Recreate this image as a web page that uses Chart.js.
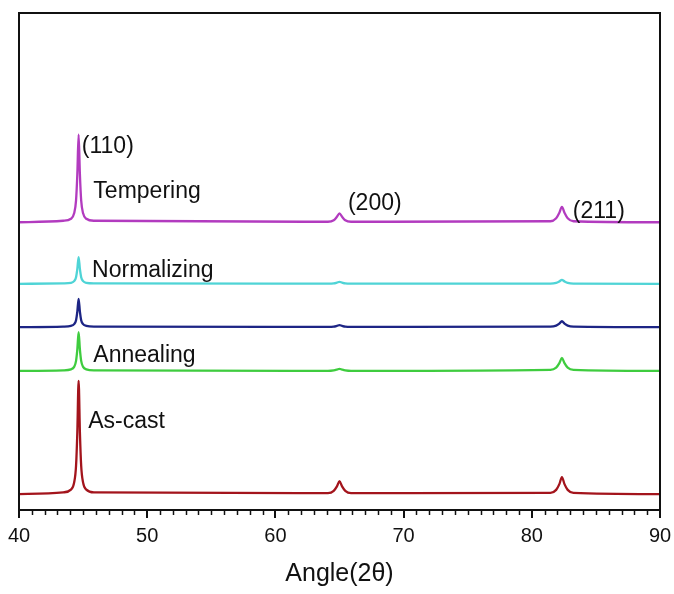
<!DOCTYPE html>
<html>
<head>
<meta charset="utf-8">
<script src="https://cdn.jsdelivr.net/npm/chart.js@4"></script>
<style>
  html, body { margin: 0; padding: 0; background: #fff; }
  #wrap { width: 674px; height: 594px; }
</style>
</head>
<body>
<div id="wrap"><canvas id="grafico-xrd"></canvas></div>
<script>
// Ángulos 2θ compartidos por todas las curvas
const angulos = [40, 43.45, 44.05, 44.3, 44.45, 44.55, 44.65, 44.75, 44.85, 45.0, 45.25, 45.85,
    64.1, 64.55, 64.8, 65.0, 65.2, 65.45, 65.9,
    81.45, 81.9, 82.15, 82.35, 82.55, 82.8, 83.25, 90];

// Intensidades (desplazadas)
const asCast      = [3.2, 3.55, 4.1, 5.5, 8.9, 15.7, 26.0, 15.7, 8.9, 5.5, 4.1, 3.55,
    3.4, 3.85, 4.75, 5.8, 4.75, 3.85, 3.4,
    3.45, 4.05, 5.2, 6.6, 5.2, 4.05, 3.45, 3.2];
const annealing   = [28.0, 28.1, 28.3, 28.8, 30.0, 32.3, 35.8, 32.3, 30.0, 28.8, 28.3, 28.1,
    28.0, 28.1, 28.25, 28.4, 28.25, 28.1, 28.0,
    28.2, 28.65, 29.55, 30.6, 29.55, 28.65, 28.2, 28.0];
const sinNombre   = [36.8, 36.9, 37.05, 37.4, 38.2, 39.9, 42.5, 39.9, 38.2, 37.4, 37.05, 36.9,
    36.85, 36.9, 37.05, 37.2, 37.05, 36.9, 36.85,
    36.9, 37.1, 37.5, 38.0, 37.5, 37.1, 36.9, 36.8];
const normalizing = [45.5, 45.6, 45.7, 46.05, 46.85, 48.5, 50.9, 48.5, 46.85, 46.05, 45.7, 45.6,
    45.55, 45.6, 45.75, 45.9, 45.75, 45.6, 45.55,
    45.55, 45.7, 46.0, 46.3, 46.0, 45.7, 45.55, 45.5];
const tempering   = [57.9, 58.2, 58.6, 59.7, 62.3, 67.6, 75.5, 67.6, 62.3, 59.7, 58.6, 58.2,
    58.0, 58.3, 59.0, 59.7, 59.0, 58.3, 58.0,
    58.1, 58.7, 59.8, 61.0, 59.8, 58.7, 58.1, 57.9];

// Etiquetas de texto: [texto, ángulo, intensidad de la línea base del texto]
const etiquetas = [
    ['(110)', 44.9, 71.8],
    ['Tempering', 45.8, 62.8],
    ['(200)', 65.66, 60.4],
    ['(211)', 83.2, 58.75],
    ['Normalizing', 45.7, 46.9],
    ['Annealing', 45.8, 29.8],
    ['As-cast', 45.4, 16.5]
];

const serie = (datos, color) => ({
    data: angulos.map((a, i) => ({ x: a, y: datos[i] })),
    borderColor: color,
    borderWidth: 2.3,
    pointRadius: 0,
    cubicInterpolationMode: 'monotone',
    fill: false
});

// Marco, ticks menores y textos
const extras = {
    id: 'extras',
    afterDraw(chart) {
        const { ctx, chartArea: ca, scales: { x, y } } = chart;
        ctx.save();
        ctx.strokeStyle = '#111';
        ctx.lineWidth = 2;
        ctx.strokeRect(ca.left, ca.top, ca.right - ca.left, ca.bottom - ca.top);

        // ticks menores cada 1°
        ctx.lineWidth = 1.5;
        for (let v = 41; v < 90; v++) {
            if (v % 10 === 0) continue;
            const px = Math.round(x.getPixelForValue(v)) + 0.5;
            ctx.beginPath();
            ctx.moveTo(px, ca.bottom);
            ctx.lineTo(px, ca.bottom + 5);
            ctx.stroke();
        }

        ctx.fillStyle = '#111';
        ctx.font = '23px "Liberation Sans", Arial, sans-serif';
        ctx.textBaseline = 'alphabetic';
        etiquetas.forEach(([t, a, v]) => {
            ctx.fillText(t, x.getPixelForValue(a), y.getPixelForValue(v));
        });
        ctx.restore();
    }
};

window.graficaXRD = new Chart(document.getElementById('grafico-xrd').getContext('2d'), {
    type: 'line',
    data: {
        datasets: [
            serie(asCast, '#a3141c'),
            serie(annealing, '#3fcc3f'),
            serie(sinNombre, '#1d2585'),
            serie(normalizing, '#4fd4d6'),
            serie(tempering, '#b23bbf')
        ]
    },
    options: {
        responsive: true,
        maintainAspectRatio: false,
        animation: false,
        layout: { padding: { left: 19, right: 14, top: 13, bottom: 5 } },
        plugins: {
            legend: { display: false },
            tooltip: { enabled: false }
        },
        scales: {
            x: {
                type: 'linear',
                min: 40,
                max: 90,
                border: { display: false },
                afterFit(scale) {
                    scale.height = 79;
                    scale.paddingLeft = 0;
                    scale.paddingRight = 0;
                },
                grid: {
                    drawOnChartArea: false,
                    drawTicks: true,
                    tickLength: 8,
                    tickColor: '#111',
                    lineWidth: 2
                },
                ticks: {
                    stepSize: 10,
                    padding: 6,
                    maxRotation: 0,
                    minRotation: 0,
                    color: '#111',
                    font: { size: 20, family: '"Liberation Sans", Arial, sans-serif' }
                },
                title: {
                    display: true,
                    text: 'Angle(2θ)',
                    color: '#111',
                    padding: { top: 11, bottom: 0 },
                    font: { size: 25, family: '"Liberation Sans", Arial, sans-serif' }
                }
            },
            y: {
                display: false,
                min: 0,
                max: 100
            }
        }
    },
    plugins: [extras]
});
</script>
</body>
</html>
